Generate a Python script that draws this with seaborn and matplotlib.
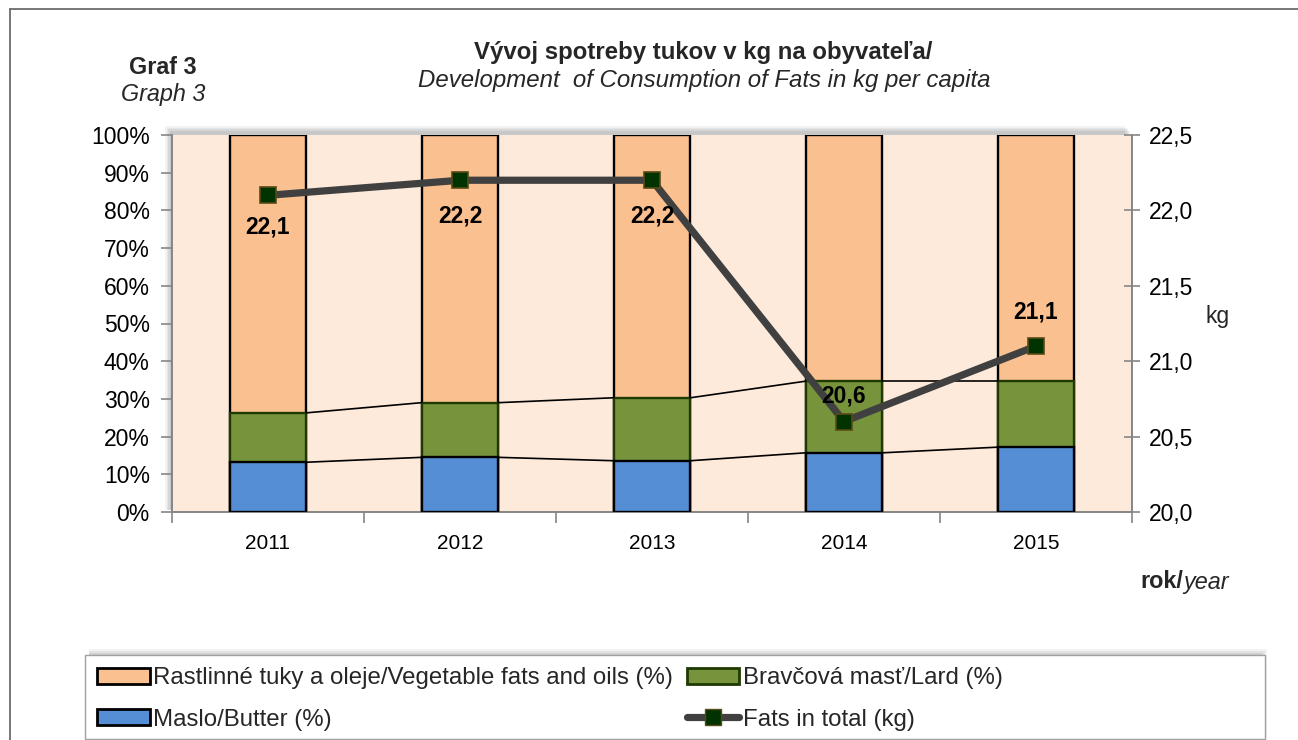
import numpy as np
import pandas as pd
import matplotlib
matplotlib.use("Agg")
import matplotlib.pyplot as plt
from matplotlib.patches import Rectangle, Patch
from matplotlib.lines import Line2D
from matplotlib.ticker import FixedLocator, FuncFormatter
import seaborn as sns

# ---- data ----
years = ["2011", "2012", "2013", "2014", "2015"]
butter_pct = [13.2, 14.5, 13.6, 15.7, 17.2]
lard_pct = [13.1, 14.5, 16.7, 19.0, 17.5]
veg_pct = [73.7, 71.0, 69.7, 65.3, 65.3]
total_kg = [22.1, 22.2, 22.2, 20.6, 21.1]
total_labels = ["22,1", "22,2", "22,2", "20,6", "21,1"]

series_names = ["Rastlinné tuky a oleje/Vegetable fats and oils (%)",
                "Bravčová masť/Lard (%)",
                "Maslo/Butter (%)",
                "Fats in total (kg)"]

sns.set_theme(style="white")
plt.rcParams['font.family'] = ['Liberation Sans', 'DejaVu Sans']

C_VEG = "#FAC090"
C_LARD = "#77933C"
C_BUT = "#558ED5"
C_BG = "#FDEADA"
C_LINE = "#404040"
C_MARK = "#003300"
C_MEDGE = "#5A4A14"
C_AX = "#868686"

W, H = 1298, 740
fig = plt.figure(figsize=(W / 100, H / 100), dpi=100)
fig.patch.set_facecolor("white")

def fx(px):
    return px / W

def fy(py):
    return 1 - py / H

# outer border (top and left only)
fig.add_artist(Line2D([fx(10), 1.0], [fy(9), fy(9)], color="#606060", lw=1.2, transform=fig.transFigure))
fig.add_artist(Line2D([fx(10), fx(10)], [fy(9), 0.0], color="#606060", lw=1.2, transform=fig.transFigure))

left, right, top, bottom = 172, 1132, 135, 512
# shadow behind the plot area
for k, a in enumerate([0.05, 0.05, 0.06, 0.07]):
    off = 7 - k * 1.5
    fig.add_artist(Rectangle((fx(left - off), fy(bottom - 2)), fx(right - left), (bottom - top + off) / H,
                             facecolor="black", alpha=a, edgecolor="none", transform=fig.transFigure, zorder=0))

ax = fig.add_axes([fx(left), fy(bottom), fx(right - left), (bottom - top) / H])
ax.set_facecolor(C_BG)

df = pd.DataFrame({"year": years,
                   "top": [b + l + v for b, l, v in zip(butter_pct, lard_pct, veg_pct)],
                   "lard_top": [b + l for b, l in zip(butter_pct, lard_pct)],
                   "butter": butter_pct})

bw = 0.4
sns.barplot(data=df, x="year", y="top", color=C_VEG, saturation=1, width=bw,
            edgecolor="black", linewidth=1.7, errorbar=None, ax=ax, zorder=2)
sns.barplot(data=df, x="year", y="lard_top", color=C_LARD, saturation=1, width=bw,
            edgecolor="#1E3A00", linewidth=1.7, errorbar=None, ax=ax, zorder=3)
sns.barplot(data=df, x="year", y="butter", color=C_BUT, saturation=1, width=bw,
            edgecolor="black", linewidth=1.7, errorbar=None, ax=ax, zorder=4)

# series lines connecting bar segments
for vals in (df["lard_top"].values, df["butter"].values):
    for i in range(len(years) - 1):
        ax.plot([i + bw / 2, i + 1 - bw / 2], [vals[i], vals[i + 1]], color="black", lw=1.2, zorder=5)

ax.set_xlim(-0.5, len(years) - 0.5)
ax.set_ylim(0, 100)
ax.set_xlabel("")
ax.set_ylabel("")
ax.yaxis.set_major_locator(FixedLocator(np.arange(0, 101, 10)))
ax.yaxis.set_major_formatter(FuncFormatter(lambda v, p: f"{int(round(v))}%"))
ax.tick_params(axis="y", which="major", left=True, length=8, width=1.2, color=C_AX,
               labelsize=16.5, pad=8, labelcolor="black")
ax.set_xticks(range(len(years)))
ax.set_xticklabels(years)
ax.xaxis.set_minor_locator(FixedLocator(np.arange(-0.5, len(years), 1.0)))
ax.tick_params(axis="x", which="major", length=0, labelsize=15, pad=16, labelcolor="black")
ax.tick_params(axis="x", which="minor", bottom=True, length=8, width=1.2, color=C_AX)
for s in ["top", "right"]:
    ax.spines[s].set_visible(False)
for s in ["left", "bottom"]:
    ax.spines[s].set_color(C_AX)
    ax.spines[s].set_linewidth(1.4)

# total line on secondary axis
ax2 = ax.twinx()
sns.pointplot(x=years, y=total_kg, ax=ax2, color=C_LINE, markers="s", errorbar=None,
              linewidth=5.2, markersize=11.5, markerfacecolor=C_MARK, markeredgecolor=C_MEDGE,
              markeredgewidth=1.2)
ax2.set_xlim(-0.5, len(years) - 0.5)
ax2.set_ylim(20.0, 22.5)
ax2.yaxis.set_major_locator(FixedLocator(np.arange(20.0, 22.51, 0.5)))
ax2.yaxis.set_major_formatter(FuncFormatter(lambda v, p: f"{v:.1f}".replace(".", ",")))
ax2.tick_params(axis="y", right=True, direction="inout", length=12, width=1.2, color=C_AX,
                labelsize=16.5, pad=6, labelcolor="black")
ax2.set_ylabel("")
for s in ["top", "left", "bottom"]:
    ax2.spines[s].set_visible(False)
ax2.spines["right"].set_color(C_AX)
ax2.spines["right"].set_linewidth(1.4)

# data labels
offsets = [-32, -36, -36, 26, 34]
for i, (v, lab, off) in enumerate(zip(total_kg, total_labels, offsets)):
    ax2.annotate(lab, (i, v), xytext=(0, off * 0.72), textcoords="offset points",
                 ha="center", va="center", fontsize=16.5, fontweight="bold", color="black", zorder=10)

# titles
fig.text(fx(703), fy(53), "Vývoj spotreby tukov v kg na obyvateľa/", ha="center", va="center",
         fontsize=17.3, fontweight="bold")
fig.text(fx(704), fy(81), "Development  of Consumption of Fats in kg per capita", ha="center", va="center",
         fontsize=17.3, fontstyle="italic")
fig.text(fx(163), fy(67), "Graf 3", ha="center", va="center", fontsize=16.8, fontweight="bold")
fig.text(fx(163), fy(95), "Graph 3", ha="center", va="center", fontsize=16.8, fontstyle="italic")
fig.text(fx(1218), fy(317), "kg", ha="center", va="center", fontsize=16.5)
fig.text(fx(1183), fy(582), "rok/", ha="right", va="center", fontsize=16.8, fontweight="bold")
fig.text(fx(1183), fy(582), "year", ha="left", va="center", fontsize=16.8, fontstyle="italic")

# legend box with shadow
lx0, lx1, ly0, ly1 = 85, 1265, 655, 739
for k, a in enumerate([0.05, 0.06, 0.08]):
    off = 6 - k * 2
    fig.add_artist(Rectangle((fx(lx0 + 4), fy(ly1)), fx(lx1 - lx0 - 4 + off - 4), (ly1 - ly0 + off) / H,
                             facecolor="black", alpha=a, edgecolor="none", transform=fig.transFigure, zorder=0))
fig.add_artist(Rectangle((fx(lx0), fy(ly1)), fx(lx1 - lx0), (ly1 - ly0) / H,
                         facecolor="white", edgecolor="#A0A0A0", lw=1.0, transform=fig.transFigure, zorder=1))

h_veg = Patch(facecolor=C_VEG, edgecolor="black", linewidth=2)
h_lard = Patch(facecolor=C_LARD, edgecolor="#1E3A00", linewidth=2)
h_but = Patch(facecolor=C_BUT, edgecolor="black", linewidth=2)
h_line = Line2D([], [], color=C_LINE, lw=5.2, marker="s", markersize=11,
                markerfacecolor=C_MARK, markeredgecolor=C_MEDGE)
leg = fig.legend([h_veg, h_but, h_lard, h_line],
                 [series_names[0], series_names[2], series_names[1], series_names[3]],
                 ncol=2, loc="center left", bbox_to_anchor=(fx(85), fy(699)),
                 frameon=False, fontsize=17.3, handlelength=2.2, handleheight=0.65,
                 handletextpad=0.15, columnspacing=0.55, labelspacing=0.8, borderpad=0)
leg.set_zorder(3)

fig.savefig("out.png", dpi=100, facecolor="white")
